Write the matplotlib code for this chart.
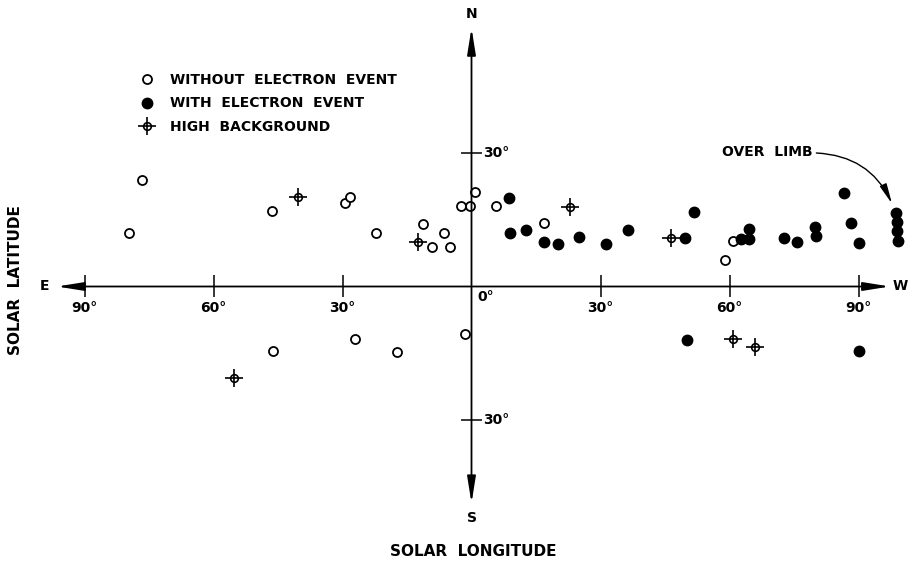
import matplotlib.pyplot as plt
from matplotlib.lines import Line2D

# solar longitude (E negative, W positive) / latitude in degrees
without_lon = [-76.7, -79.7, -46.4, -29.4, -28.2, -22.1, -11.2, -9.3, -6.3, -5.1,
               -2.4, -0.3, 0.8, 5.7, 16.8, 58.9, 60.7, -46.2, -27.2, -17.3, -1.5]
without_lat = [23.9, 12.1, 17.0, 18.8, 20.1, 12.1, 14.1, 8.9, 12.1, 8.9,
               18.1, 18.1, 21.2, 18.0, 14.3, 6.0, 10.3, -14.6, -11.7, -14.7, -10.7]

with_lon = [8.7, 8.9, 12.7, 16.9, 20.0, 25.0, 31.3, 36.4, 49.7, 51.8, 62.7, 64.6, 64.6,
            72.7, 75.8, 79.8, 80.1, 86.6, 88.2, 90.1, 98.8, 99.0, 99.0, 99.1, 50.0, 90.1]
with_lat = [20.0, 12.0, 12.8, 10.1, 9.6, 11.1, 9.6, 12.7, 10.9, 16.7, 10.7, 10.7, 13.0,
            11.0, 10.1, 13.4, 11.3, 21.1, 14.2, 9.8, 16.6, 14.6, 12.5, 10.2, -12.1, -14.5]

hb_lon = [-40.3, -12.4, 22.8, 46.5, -55.2, 60.9, 66.0]
hb_lat = [20.1, 10.1, 17.9, 11.0, -20.6, -11.7, -13.6]

lon_ticks = [-90, -60, -30, 30, 60, 90]
lat_ticks = [30, -30]

W, H = 909, 562
fig = plt.figure(figsize=(W / 100, H / 100), dpi=100)
ax = fig.add_axes([0, 0, 1, 1])
ax.set_xlim(-471.5 / 4.30, (W - 471.5) / 4.30)
ax.set_ylim(-(H - 286.5) / 4.45, 286.5 / 4.45)
ax.axis('off')

txt = dict(fontsize=10, fontweight='bold', color='black')

# axes with arrow heads
arr = dict(arrowstyle='<|-|>,head_length=1.0,head_width=0.16', color='black',
           lw=1.3, shrinkA=0, shrinkB=0, mutation_scale=16)
ax.annotate('', xy=(-96.4, 0), xytext=(97.3, 0), arrowprops=arr)
ax.annotate('', xy=(0, 58.1), xytext=(0, -48.7), arrowprops=arr)

# ticks
ax.vlines(lon_ticks, -2.3, 2.6, color='black', lw=1.1)
ax.hlines(lat_ticks, -2.4, 2.4, color='black', lw=1.1)
for t in lon_ticks:
    ax.text(t, -4.8, f'{abs(t)}°', ha='center', va='center', **txt)
ax.text(1.3, -2.4, '0°', ha='left', va='center', **txt)
for t in lat_ticks:
    ax.text(2.6, t, f'{abs(t)}°', ha='left', va='center', **txt)

ax.text(0, 61.2, 'N', ha='center', va='center', **txt)
ax.text(0, -52.1, 'S', ha='center', va='center', **txt)
ax.text(-99.2, 0, 'E', ha='center', va='center', **txt)
ax.text(99.8, 0, 'W', ha='center', va='center', **txt)

lab = dict(txt, fontsize=11)
fig.text(16 / W, 1 - 280 / H, 'SOLAR  LATITUDE', rotation=90, ha='center', va='center', **lab)
fig.text(473 / W, 1 - 552 / H, 'SOLAR  LONGITUDE', ha='center', va='center', **lab)

# data
ax.plot(without_lon, without_lat, 'o', mfc='white', mec='black', mew=1.3, ms=6.5, ls='none')
ax.plot(with_lon, with_lat, 'o', mfc='black', mec='black', ms=7.5, ls='none')
ax.plot(hb_lon, hb_lat, 'o', mfc='white', mec='black', mew=1.2, ms=5.5, ls='none')
ax.plot(hb_lon, hb_lat, '+', color='black', mew=1.2, ms=13, ls='none')

# over limb note
ax.text(79.4, 30.2, 'OVER  LIMB', ha='right', va='center', **txt)
ax.annotate('', xy=(97.8, 18.6), xytext=(80.2, 30.0),
            arrowprops=dict(arrowstyle='-|>,head_length=1.0,head_width=0.18', color='black',
                            lw=1.0, shrinkA=0, shrinkB=0, mutation_scale=12,
                            connectionstyle='arc3,rad=-0.3'))

# legend
h_without = Line2D([], [], marker='o', mfc='white', mec='black', mew=1.3, ms=6.5, ls='none')
h_with = Line2D([], [], marker='o', mfc='black', mec='black', ms=7.5, ls='none')
h_hb = (Line2D([], [], marker='o', mfc='white', mec='black', mew=1.2, ms=5.5, ls='none'),
        Line2D([], [], marker='+', color='black', mew=1.2, ms=13, ls='none'))
leg = ax.legend([h_without, h_with, h_hb],
                ['WITHOUT  ELECTRON  EVENT', 'WITH  ELECTRON  EVENT', 'HIGH  BACKGROUND'],
                loc='upper left', bbox_to_anchor=(138.7 / W, 1 - 73 / H),
                frameon=False, handlelength=1.2, handletextpad=1.05,
                labelspacing=0.68, borderpad=0, borderaxespad=0,
                prop=dict(size=10, weight='bold'))

fig.savefig('out.png', dpi=100, facecolor='white')
